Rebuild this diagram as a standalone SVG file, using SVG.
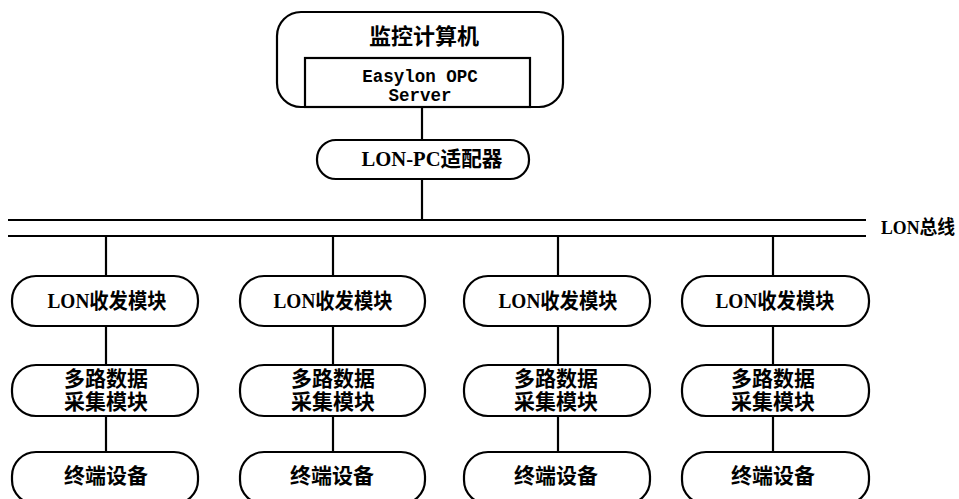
<svg xmlns="http://www.w3.org/2000/svg" width="959" height="499" viewBox="0 0 959 499">
<style>
.box{fill:#fff;stroke:#000;stroke-width:2.2}
.ln{stroke:#000;stroke-width:2.2;fill:none}
.t{font-family:"Liberation Serif","Noto Sans CJK SC",serif;font-weight:bold;fill:#000;text-anchor:middle;dominant-baseline:central}
.m{font-family:"Liberation Mono","Noto Sans CJK SC",monospace;font-weight:bold;fill:#000;text-anchor:middle;dominant-baseline:central;font-size:17.5px}
.a{font-size:21px}
</style>
<rect width="959" height="499" fill="#fff"/>
<g id="connectors">
<line class="ln" x1="422" y1="107" x2="422" y2="140"/>
<line class="ln" x1="422" y1="179" x2="422" y2="220"/>
<line class="ln" x1="8" y1="220" x2="866" y2="220"/>
<line class="ln" x1="8" y1="236" x2="866" y2="236"/>
<line class="ln" x1="106" y1="236" x2="106" y2="276"/>
<line class="ln" x1="333" y1="236" x2="333" y2="276"/>
<line class="ln" x1="558" y1="236" x2="558" y2="276"/>
<line class="ln" x1="773" y1="236" x2="773" y2="276"/>
<line class="ln" x1="106" y1="326" x2="106" y2="365"/>
<line class="ln" x1="333" y1="326" x2="333" y2="365"/>
<line class="ln" x1="558" y1="326" x2="558" y2="365"/>
<line class="ln" x1="773" y1="326" x2="773" y2="365"/>
<line class="ln" x1="106" y1="416" x2="106" y2="452"/>
<line class="ln" x1="333" y1="416" x2="333" y2="452"/>
<line class="ln" x1="558" y1="416" x2="558" y2="452"/>
<line class="ln" x1="773" y1="416" x2="773" y2="452"/>
</g>
<text class="t" x="918" y="227" font-size="19" textLength="74" lengthAdjust="spacingAndGlyphs">LON总线</text>
<g id="pc">
<rect class="box" x="277" y="12" width="286" height="95" rx="24"/>
<rect class="box" x="305" y="58" width="225" height="49"/>
<text class="t" x="424" y="36" font-size="22">监控计算机</text>
<text class="m" x="420" y="77">Easylon OPC</text>
<text class="m" x="420" y="96">Server</text>
</g>
<g id="adapter">
<rect class="box" x="317" y="140" width="212" height="39" rx="19"/>
<text class="t" x="432" y="159" font-size="21" textLength="141" lengthAdjust="spacingAndGlyphs">LON-PC适配器</text>
</g>
<g id="lon1"><rect class="box" x="12" y="276" width="186" height="50" rx="24"/><text class="t" x="107" y="301" font-size="21" textLength="119" lengthAdjust="spacingAndGlyphs">LON收发模块</text></g>
<g id="lon2"><rect class="box" x="240" y="276" width="185" height="50" rx="24"/><text class="t" x="333" y="301" font-size="21" textLength="119" lengthAdjust="spacingAndGlyphs">LON收发模块</text></g>
<g id="lon3"><rect class="box" x="464" y="276" width="186" height="50" rx="24"/><text class="t" x="558" y="301" font-size="21" textLength="119" lengthAdjust="spacingAndGlyphs">LON收发模块</text></g>
<g id="lon4"><rect class="box" x="682" y="276" width="187" height="50" rx="24"/><text class="t" x="775" y="301" font-size="21" textLength="119" lengthAdjust="spacingAndGlyphs">LON收发模块</text></g>
<g id="acq1"><rect class="box" x="12" y="365" width="186" height="51" rx="24"/><text class="t a" x="106" y="379">多路数据</text><text class="t a" x="106" y="402">采集模块</text></g>
<g id="acq2"><rect class="box" x="240" y="365" width="185" height="51" rx="24"/><text class="t a" x="333" y="379">多路数据</text><text class="t a" x="333" y="402">采集模块</text></g>
<g id="acq3"><rect class="box" x="464" y="365" width="186" height="51" rx="24"/><text class="t a" x="556" y="379">多路数据</text><text class="t a" x="556" y="402">采集模块</text></g>
<g id="acq4"><rect class="box" x="682" y="365" width="187" height="51" rx="24"/><text class="t a" x="773" y="379">多路数据</text><text class="t a" x="773" y="402">采集模块</text></g>
<g id="dev1"><rect class="box" x="12" y="452" width="186" height="52" rx="24"/><text class="t" x="106" y="476" font-size="21">终端设备</text></g>
<g id="dev2"><rect class="box" x="240" y="452" width="185" height="52" rx="24"/><text class="t" x="332" y="476" font-size="21">终端设备</text></g>
<g id="dev3"><rect class="box" x="464" y="452" width="186" height="52" rx="24"/><text class="t" x="556" y="476" font-size="21">终端设备</text></g>
<g id="dev4"><rect class="box" x="682" y="452" width="187" height="52" rx="24"/><text class="t" x="773" y="476" font-size="21">终端设备</text></g>
</svg>
